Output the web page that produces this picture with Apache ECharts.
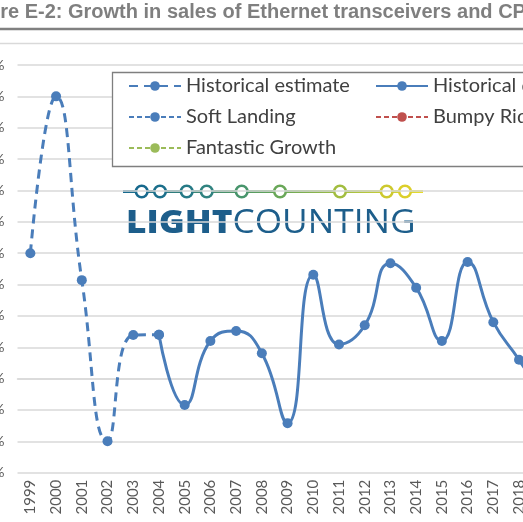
<!DOCTYPE html>
<html>
<head>
<meta charset="utf-8">
<script src="https://cdn.jsdelivr.net/npm/echarts@6/dist/echarts.min.js"></script>
<style>
  html, body { margin: 0; padding: 0; background: #fff; }
  #chart { width: 523px; height: 522px; }
</style>
</head>
<body>
<div id="chart"></div>
<script>
// categories (the chart runs on past the right edge of the crop)
const years = ['1999', '2000', '2001', '2002', '2003', '2004', '2005', '2006', '2007', '2008',
  '2009', '2010', '2011', '2012', '2013', '2014', '2015', '2016', '2017', '2018',
  '2019', '2020', '2021', '2022', '2023', '2024']

// growth, % per year
const estimateStart = '1999'
const estimateValues = [40, 90, 31.4, -20, 13.9, 14.0]
const historicalStart = '2004'
const historicalValues = [14.0, -8.4, 12.0, 15.2, 8.1, -14.2, 33.1, 10.9, 17.0, 36.8,
  29.0, 12.0, 37.2, 18.0, 6.0, -6.8]
// scenario series fall outside the visible crop
const softLanding = []
const bumpyRide = []
const fantasticGrowth = []

const yTicks = { min: -30, max: 100, interval: 10 }

function alignTo(start, vals) {
  const off = years.indexOf(start)
  return years.map((y, i) => (i >= off && i - off < vals.length) ? vals[i - off] : null)
}

const blue = '#4A7DBA'
const red = '#C0504D'
const green = '#9BBB59'
const step = 25.72

const chart = echarts.init(document.getElementById('chart'), null, { renderer: 'canvas' })

const logoDots = [141.7, 160, 186.7, 206.7, 241.7, 280, 340, 386.7, 405]
const dotColors = ['#17698d', '#1b6f8b', '#267a86', '#318380', '#48956c', '#69a758', '#a2bd3f', '#cdc92e', '#dccf2a']

const legendText = { fontFamily: 'Lato', fontSize: 20, color: '#404040', lineHeight: 20 }

chart.setOption({
  animation: false,
  grid: {
    left: 17.5, top: 65, height: 407.7, width: step * years.length,
    containLabel: false, outerBoundsMode: 'none'
  },
  xAxis: {
    type: 'category',
    data: years,
    boundaryGap: true,
    axisLine: { lineStyle: { color: '#d9d9d9', width: 1.5 } },
    axisTick: { show: false },
    axisLabel: { rotate: 90, margin: 7, color: '#595959', fontFamily: 'Lato', fontSize: 15, interval: 0 }
  },
  yAxis: {
    type: 'value',
    min: yTicks.min, max: yTicks.max, interval: yTicks.interval,
    axisLine: { show: false },
    axisTick: { show: false },
    axisLabel: { formatter: '{value}%', margin: 13, color: '#595959', fontFamily: 'Lato', fontSize: 14 },
    splitLine: { lineStyle: { color: '#d9d9d9', width: 1.5 } }
  },
  legend: [
    {
      data: ['Historical estimate', 'Soft Landing', 'Fantastic Growth'],
      orient: 'vertical', left: 123, top: 71,
      itemWidth: 52, itemHeight: 12, itemGap: 11,
      selectedMode: false,
      textStyle: legendText
    },
    {
      data: ['Historical data', 'Bumpy Ride'],
      orient: 'vertical', left: 370, top: 71,
      itemWidth: 52, itemHeight: 12, itemGap: 11,
      selectedMode: false,
      textStyle: legendText
    }
  ],
  graphic: [
    {
      type: 'text', x: -42, y: 12, silent: true,
      style: {
        text: 'Figure E-2: Growth in sales of Ethernet transceivers and CPO',
        font: 'bold 20px "Liberation Sans", Arial, sans-serif',
        fill: '#7f7f7f', textVerticalAlign: 'middle'
      }
    },
    { type: 'line', silent: true, shape: { x1: 0, y1: 29, x2: 523, y2: 29 }, style: { stroke: '#808080', lineWidth: 2.5 } },
    { type: 'line', silent: true, shape: { x1: 0, y1: 43.5, x2: 523, y2: 43.5 }, style: { stroke: '#d9d9d9', lineWidth: 1.5 } },
    {
      type: 'rect', silent: true, z: 1,
      shape: { x: 112.5, y: 72.5, width: 700, height: 94 },
      style: { fill: '#fff', stroke: '#7f7f7f', lineWidth: 1.3 }
    },
    {
      type: 'group', silent: true, z: 1,
      children: [
        {
          type: 'line',
          shape: { x1: 123, y1: 191.5, x2: 423, y2: 191.5 },
          style: {
            lineWidth: 3,
            stroke: {
              type: 'linear', x: 123, y: 0, x2: 423, y2: 0, global: true,
              colorStops: [
                { offset: 0, color: '#13688f' },
                { offset: 0.5, color: '#62a459' },
                { offset: 1, color: '#e8dc2a' }
              ]
            }
          }
        },
        ...logoDots.map((cx, i) => ({
          type: 'circle',
          shape: { cx: cx, cy: 191.5, r: 5.8 },
          style: { fill: '#fff', stroke: dotColors[i], lineWidth: 2.6 }
        })),
        {
          type: 'text', x: 126, y: 224, scaleX: 1.1,
          style: {
            text: '{b|LIGHT}{r|COUNTING}',
            textVerticalAlign: 'middle',
            rich: {
              b: { fontFamily: 'Open Sans', fontWeight: 800, fontSize: 32, fill: '#1d5e8b', color: '#1d5e8b' },
              r: { fontFamily: 'Open Sans', fontWeight: 400, fontSize: 32, fill: '#1d5e8b', color: '#1d5e8b' }
            }
          }
        }
      ]
    }
  ],
  series: [
    {
      name: 'Historical estimate', type: 'line', z: 3,
      data: alignTo(estimateStart, estimateValues),
      smooth: 0.5, connectNulls: false,
      symbol: 'circle', symbolSize: 10,
      lineStyle: { color: blue, width: 3, type: [9, 6] },
      itemStyle: { color: blue }
    },
    {
      name: 'Historical data', type: 'line', z: 4,
      data: alignTo(historicalStart, historicalValues),
      smooth: 0.5,
      symbol: 'circle', symbolSize: 10,
      lineStyle: { color: blue, width: 3 },
      itemStyle: { color: blue }
    },
    {
      name: 'Soft Landing', type: 'line', data: softLanding,
      symbol: 'circle', symbolSize: 10,
      lineStyle: { color: blue, width: 3, type: [5, 3] }, itemStyle: { color: blue }
    },
    {
      name: 'Bumpy Ride', type: 'line', data: bumpyRide,
      symbol: 'circle', symbolSize: 10,
      lineStyle: { color: red, width: 3, type: [5, 3] }, itemStyle: { color: red }
    },
    {
      name: 'Fantastic Growth', type: 'line', data: fantasticGrowth,
      symbol: 'circle', symbolSize: 10,
      lineStyle: { color: green, width: 3, type: [5, 3] }, itemStyle: { color: green }
    }
  ]
})
</script>
</body>
</html>
